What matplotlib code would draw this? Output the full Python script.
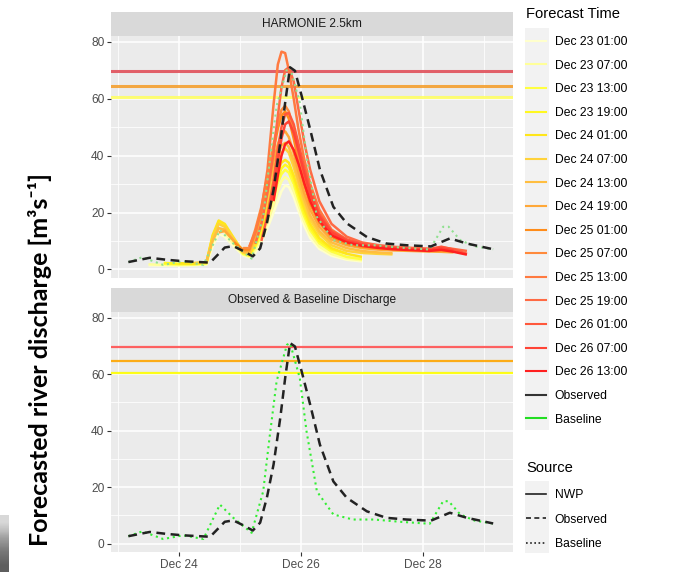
import matplotlib
matplotlib.use("Agg")
import matplotlib.pyplot as plt
from matplotlib.lines import Line2D
from matplotlib.patches import Rectangle
import numpy as np

plt.rcParams['font.family'] = ['Liberation Sans', 'DejaVu Sans']

N = None
# ---------------- data ----------------
# time axis in days of December
fc_time = [23.5, 23.75, 24.0, 24.25, 24.45, 24.55, 24.65, 24.75, 24.9, 25.05, 25.15, 25.25,
           25.35, 25.45, 25.55, 25.62, 25.68, 25.74, 25.8, 25.88, 25.96, 26.05, 26.15, 26.3,
           26.5, 26.75, 27.0, 27.25, 27.5, 27.8, 28.1, 28.3, 28.5, 28.72]

fc_labels = ["Dec 23 01:00", "Dec 23 07:00", "Dec 23 13:00", "Dec 23 19:00",
             "Dec 24 01:00", "Dec 24 07:00", "Dec 24 13:00", "Dec 24 19:00",
             "Dec 25 01:00", "Dec 25 07:00", "Dec 25 13:00", "Dec 25 19:00",
             "Dec 26 01:00", "Dec 26 07:00", "Dec 26 13:00"]

fc_colors = ["#FFFFCC", "#FFFF99", "#FFFF40", "#FFF820", "#FFE61A", "#FFD23A", "#FFBE40",
             "#FFA838", "#FF8C1A", "#FF8A3C", "#FF7A40", "#FF6A44", "#FF583C", "#FF4436",
             "#FF2020"]

fc_d23_01 = [1.5, 1.4, 1.4, 1.5, 1.7, 8.0, 12.5, 11.5, 8.0, 5.0, 4.2, 5.8, 9.5, 14.5, 20.0, 24.0,
             27.5, 29.5, 29.0, 25.5, 20.5, 15.5, 11.0, 7.2, 4.8, 3.4, 2.8, N, N, N, N, N, N, N]
fc_d23_07 = [1.8, 1.6, 1.5, 1.6, 1.9, 9.5, 14.5, 13.0, 8.8, 5.2, 4.5, 6.8, 11.0, 16.5, 22.5, 27.5,
             31.0, 32.5, 31.5, 27.5, 22.5, 17.0, 12.2, 8.0, 5.4, 3.8, 3.2, N, N, N, N, N, N, N]
fc_d23_13 = [N, 2.0, 1.8, 1.8, 2.1, 11.0, 16.8, 15.0, 10.0, 5.5, 4.8, 7.8, 12.5, 18.5, 25.5, 30.5,
             33.5, 35.0, 34.0, 30.0, 24.5, 18.8, 13.8, 9.2, 6.3, 4.4, 3.6, N, N, N, N, N, N, N]
fc_d23_19 = [N, 2.3, 2.0, 2.0, 2.4, 11.5, 16.5, 15.5, 10.5, 6.0, 5.0, 8.5, 13.5, 20.0, 27.0, 32.0,
             35.5, 36.8, 35.8, 31.5, 26.0, 20.0, 14.8, 10.0, 7.0, 5.6, N, N, N, N, N, N, N, N]
fc_d24_01 = [N, N, 2.2, 2.1, 2.5, 12.0, 17.2, 16.0, 11.0, 6.2, 5.2, 9.0, 15.0, 22.0, 29.0, 34.5,
             37.5, 38.5, 37.5, 33.0, 27.5, 21.5, 16.0, 11.0, 7.5, 5.5, 4.4, N, N, N, N, N, N, N]
fc_d24_07 = [N, N, N, 2.3, 2.6, 11.0, 16.0, 15.0, 10.5, 6.0, 5.5, 10.0, 16.0, 24.0, 32.0, 37.5,
             41.0, 42.5, 41.0, 36.0, 30.0, 23.5, 17.5, 12.5, 8.5, 6.5, 5.8, 5.5, 5.3, N, N, N, N, N]
fc_d24_13 = [N, N, N, N, 2.8, 10.0, 14.5, 14.0, 10.0, 6.2, 6.0, 11.0, 18.0, 27.0, 35.0, 40.5,
             43.5, 44.5, 43.0, 38.0, 31.5, 25.0, 19.0, 13.5, 9.5, 7.5, 6.5, 6.0, 5.7, N, N, N, N, N]
fc_d24_19 = [N, N, N, N, N, N, 13.0, 13.5, 10.0, 6.5, 6.5, 12.0, 19.0, 29.0, 38.0, 44.0,
             47.5, 48.5, 46.5, 41.0, 34.0, 27.0, 21.0, 15.0, 10.5, 8.5, 7.5, 7.0, 6.7, 6.5, 6.3, 6.2, 6.0, N]
fc_d25_01 = [N, N, N, N, N, N, N, N, 9.5, 7.0, 7.0, 13.0, 21.0, 31.0, 42.0, 49.5,
             54.0, 55.5, 53.0, 46.0, 38.0, 30.0, 23.0, 16.5, 11.5, 9.0, 8.0, 7.5, 7.2, 7.0, 6.9, 6.7, 6.6, N]
fc_d25_07 = [N, N, N, N, N, N, N, N, N, 7.5, 7.5, 14.0, 22.0, 33.0, 44.0, 51.5,
             56.0, 57.5, 55.5, 48.5, 40.0, 32.0, 25.0, 18.0, 12.5, 9.5, 8.5, 7.8, 7.4, 7.1, 7.0, 6.9, 6.8, N]
fc_d25_13 = [N, N, N, N, N, N, N, N, N, N, 8.0, 13.0, 21.0, 35.0, 58.0, 72.0,
             76.5, 76.0, 70.0, 60.0, 49.0, 39.0, 30.0, 21.0, 14.0, 10.5, 9.0, 8.3, 7.8, 7.4, 7.1, 7.0, 6.8, N]
fc_d25_19 = [N, N, N, N, N, N, N, N, N, N, N, 9.0, 16.0, 27.0, 41.0, 54.0,
             64.0, 70.0, 71.0, 66.0, 56.0, 45.0, 35.0, 24.0, 16.0, 11.5, 9.5, 8.6, 8.0, 7.6, 7.3, 7.8, 7.2, 6.5]
fc_d26_01 = [N, N, N, N, N, N, N, N, N, N, N, N, 10.0, 19.0, 31.0, 42.0,
             50.0, 54.5, 55.0, 51.0, 44.0, 36.0, 28.0, 19.5, 13.5, 10.5, 9.0, 8.2, 7.7, 7.3, 7.0, 8.0, 7.0, 5.5]
fc_d26_07 = [N, N, N, N, N, N, N, N, N, N, N, N, N, 18.0, 28.0, 38.0,
             46.0, 51.0, 52.0, 48.0, 41.5, 34.0, 26.5, 18.5, 13.0, 10.0, 8.7, 8.0, 7.5, 7.1, 6.8, 7.5, 6.6, N]
fc_d26_13 = [N, N, N, N, N, N, N, N, N, N, N, N, N, N, 24.0, 33.0,
             40.0, 44.0, 45.0, 42.0, 37.0, 30.5, 24.0, 17.0, 12.0, 9.5, 8.3, 7.6, 7.1, 6.8, 6.5, 6.9, 6.2, 5.2]

fc_series = [fc_d23_01, fc_d23_07, fc_d23_13, fc_d23_19, fc_d24_01, fc_d24_07, fc_d24_13,
             fc_d24_19, fc_d25_01, fc_d25_07, fc_d25_13, fc_d25_19, fc_d26_01, fc_d26_07,
             fc_d26_13]

obs_t = [23.17, 23.52, 23.8, 24.07, 24.51, 24.75, 24.89, 25.05, 25.21, 25.33, 25.44, 25.55, 25.66,
         25.74, 25.82, 25.90, 26.01, 26.15, 26.31, 26.53, 26.75, 27.08, 27.40, 27.73, 28.13, 28.44,
         28.72, 29.15]
obs_v = [2.6, 4.1, 3.4, 2.9, 2.4, 7.7, 8.2, 6.5, 4.6, 7.4, 16.2, 28.0, 44.5, 58.6, 71.0, 69.8, 61.0,
         49.2, 35.0, 22.0, 16.2, 11.4, 9.1, 8.5, 8.1, 10.9, 9.1, 7.1]

base_t = [23.17, 23.4, 23.74, 24.07, 24.4, 24.67, 24.89, 25.19, 25.38, 25.49, 25.6, 25.77, 25.82,
          25.98, 26.09, 26.26, 26.53, 26.85, 27.2, 27.62, 28.11, 28.33, 28.42, 28.61, 28.85, 29.15]
base_v = [2.6, 4.3, 1.6, 2.9, 1.6, 13.8, 9.1, 3.8, 18.5, 38.6, 57.5, 70.4, 71.0, 58.6, 39.8, 18.5,
          10.3, 8.5, 8.5, 7.7, 7.0, 15.0, 15.0, 10.3, 8.1, 7.1]

thresholds = [60.4, 64.6, 69.6]
thr_colors_top = ["#FFFF66", "#F5A030", "#E0505A"]
thr_colors_bot = ["#FFFF00", "#FFA500", "#FF5050"]

panel_titles = ["HARMONIE 2.5km", "Observed & Baseline Discharge"]
x_ticks = [24, 26, 28]
x_tick_labels = ["Dec 24", "Dec 26", "Dec 28"]
y_ticks = [0, 20, 40, 60, 80]

# ---------------- figure ----------------
W, H = 690, 572
fig = plt.figure(figsize=(W / 100, H / 100), dpi=100)


def fbox(x0, y0, x1, y1):
    return [x0 / W, 1 - y1 / H, (x1 - x0) / W, (y1 - y0) / H]


ax_top = fig.add_axes(fbox(111, 36, 513, 278))
ax_bot = fig.add_axes(fbox(111, 312, 513, 552))


def style(ax, show_x):
    ax.set_facecolor('#EBEBEB')
    ax.set_xlim(22.885, 29.475)
    ax.set_ylim(-3.0, 82.0)
    ax.set_xticks(x_ticks)
    ax.set_xticklabels(x_tick_labels)
    ax.set_xticks([23, 25, 27, 29], minor=True)
    ax.set_yticks(y_ticks)
    ax.set_yticks([10, 30, 50, 70], minor=True)
    ax.grid(which='major', color='white', lw=1.1)
    ax.grid(which='minor', color='white', lw=0.55)
    ax.set_axisbelow(True)
    for s in ax.spines.values():
        s.set_visible(False)
    ax.tick_params(which='major', length=2.75, color='#333333', width=0.8,
                   labelsize=8.6, labelcolor='#4D4D4D', pad=2)
    ax.tick_params(which='minor', length=0)
    if not show_x:
        ax.tick_params(axis='x', which='both', length=0, labelbottom=False)


style(ax_top, False)
style(ax_bot, True)

# strips
for box, title in [((111, 12, 513, 36), panel_titles[0]), ((111, 288, 513, 312), panel_titles[1])]:
    sax = fig.add_axes(fbox(*box))
    sax.set_facecolor('#D9D9D9')
    sax.set_xticks([]); sax.set_yticks([])
    for s in sax.spines.values():
        s.set_visible(False)
    sax.text(0.5, 0.5, title, ha='center', va='center', fontsize=8.6, color='#1A1A1A',
             transform=sax.transAxes)

# top panel
for v, c in zip(thresholds, thr_colors_top):
    ax_top.axhline(v, color=c, lw=2.2, alpha=0.9, zorder=2)
t_arr = np.array(fc_time)
for vals, c in zip(fc_series, fc_colors):
    ax_top.plot(t_arr, np.array(vals, dtype=float), color=c, lw=1.8, zorder=3,
                solid_capstyle='butt')
ax_top.plot(base_t, base_v, color='#90E090', lw=1.5, ls=(0, (1, 1.8)), zorder=4)
ax_top.plot(obs_t, obs_v, color='#222222', lw=1.8, ls=(0, (3.5, 2.2)), zorder=5)

# bottom panel
for v, c in zip(thresholds, thr_colors_bot):
    ax_bot.axhline(v, color=c, lw=1.6, alpha=0.9, zorder=2)
ax_bot.plot(base_t, base_v, color='#33EE33', lw=1.5, ls=(0, (1, 1.8)), zorder=4)
ax_bot.plot(obs_t, obs_v, color='#222222', lw=1.8, ls=(0, (3.5, 2.2)), zorder=5)

# legend key backgrounds
fig.add_artist(Rectangle((525 / W, 1 - 430 / H), 24 / W, 402 / H, transform=fig.transFigure,
                         facecolor='#F2F2F2', edgecolor='none', zorder=0))
fig.add_artist(Rectangle((525 / W, 1 - 553 / H), 24 / W, 72 / H, transform=fig.transFigure,
                         facecolor='#F2F2F2', edgecolor='none', zorder=0))

handles1 = [Line2D([], [], color=c, lw=1.5) for c in fc_colors]
handles1 += [Line2D([], [], color='#333333', lw=1.5), Line2D([], [], color='#22DD22', lw=1.5)]
labels1 = fc_labels + ["Observed", "Baseline"]
leg1 = fig.legend(handles1, labels1, loc='upper left', bbox_to_anchor=(526 / W, 1 - 7 / H),
                  frameon=False, fontsize=8.7, title="Forecast Time", title_fontsize=10.6,
                  alignment='left', borderpad=0, borderaxespad=0, handlelength=1.66,
                  handletextpad=0.7, labelspacing=0.96)
leg1._legend_box.sep = 10.8

handles2 = [Line2D([], [], color='#222222', lw=1.2, ls='-'),
            Line2D([], [], color='#222222', lw=1.2, ls=(0, (3, 2))),
            Line2D([], [], color='#222222', lw=1.2, ls=(0, (1, 1.5)))]
leg2 = fig.legend(handles2, ["NWP", "Observed", "Baseline"], loc='upper left',
                  bbox_to_anchor=(526 / W, 1 - 461 / H), frameon=False, fontsize=8.7,
                  title="Source", title_fontsize=10.6, alignment='left', borderpad=0,
                  borderaxespad=0, handlelength=1.66, handletextpad=0.7, labelspacing=1.05)
leg2._legend_box.sep = 10.0

# y label
fig.text(40 / W, 1 - 360 / H, "Forecasted river discharge [m³s⁻¹]", rotation=90,
         ha='center', va='center', fontsize=18, fontweight='bold',
         family=['Lato', 'DejaVu Sans'], color='black')

# small grey artefact at lower left
art = fig.add_axes(fbox(0, 515, 9, 572))
art.imshow([[0.25], [0.45], [0.6], [0.7]], cmap='Greys', vmin=0, vmax=1, aspect='auto',
           interpolation='bilinear')
art.axis('off')

fig.savefig("out.png", dpi=100)
